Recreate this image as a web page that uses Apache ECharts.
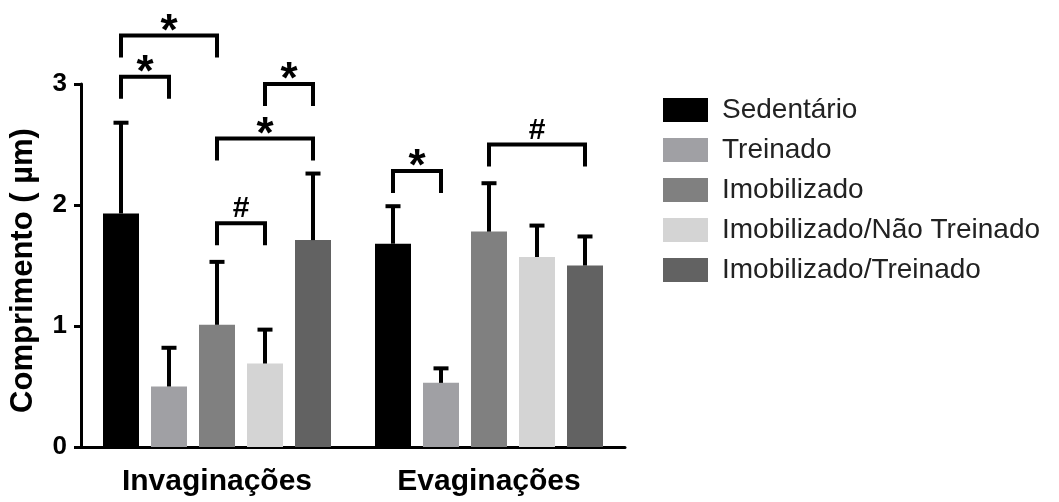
<!DOCTYPE html>
<html>
<head>
<meta charset="utf-8">
<script src="https://cdn.jsdelivr.net/npm/echarts@6/dist/echarts.min.js"></script>
<style>html,body{margin:0;padding:0;background:#fff;}#c{width:1059px;height:502px;}</style>
</head>
<body>
<div id="c"></div>
<script>
// ---- data ----
const categories = ['Invaginações', 'Evaginações'];
const seriesNames = ['Sedentário', 'Treinado', 'Imobilizado', 'Imobilizado/Não Treinado', 'Imobilizado/Treinado'];
const sedentario = [1.93, 1.68];
const treinado = [0.50, 0.53];
const imobilizado = [1.01, 1.78];
const imobNaoTreinado = [0.69, 1.57];
const imobTreinado = [1.71, 1.50];
// upper end of error bars (mean + SD)
const sedentarioErr = [2.68, 1.99];
const treinadoErr = [0.82, 0.65];
const imobilizadoErr = [1.53, 2.18];
const imobNaoTreinadoErr = [0.97, 1.83];
const imobTreinadoErr = [2.26, 1.74];
const yTicks = [0, 1, 2, 3];
// significance brackets: [category, fromSeries, toSeries, height, label]
const brackets = [
  [0, 0, 2, 3.40, '*'],
  [0, 0, 1, 3.06, '*'],
  [0, 3, 4, 3.00, '*'],
  [0, 2, 4, 2.55, '*'],
  [0, 2, 3, 1.85, '#'],
  [1, 0, 1, 2.28, '*'],
  [1, 2, 4, 2.50, '#']
];

// ---- styling ----
const colors = ['#000000', '#a0a0a4', '#808080', '#d4d4d4', '#626262'];
const BAR_W = 36, BAR_GAP = 12;
const FONT = 'Liberation Sans, Arial, sans-serif';
const means = [sedentario, treinado, imobilizado, imobNaoTreinado, imobTreinado];
const errs = [sedentarioErr, treinadoErr, imobilizadoErr, imobNaoTreinadoErr, imobTreinadoErr];
const nS = seriesNames.length;
function offsetOf(s) { return (s - (nS - 1) / 2) * (BAR_W + BAR_GAP); }

const errData = [];
means.forEach((arr, s) => arr.forEach((v, c) => errData.push([c, s, v, errs[s][c]])));

const barSeries = seriesNames.map((name, s) => ({
  name: name,
  type: 'bar',
  data: means[s],
  barWidth: BAR_W,
  barGap: (BAR_GAP / BAR_W * 100) + '%',
  itemStyle: { color: colors[s] },
  emphasis: { disabled: true },
  z: 2
}));

const errSeries = {
  type: 'custom',
  name: 'err',
  data: errData,
  encode: { x: 0, y: 2 },
  z: 3,
  silent: true,
  renderItem: function (params, api) {
    const c = api.value(0), s = api.value(1);
    const p0 = api.coord([c, api.value(2)]);
    const p1 = api.coord([c, api.value(3)]);
    const x = p0[0] + offsetOf(s);
    const st = { stroke: '#000', lineWidth: 4 };
    return {
      type: 'group',
      children: [
        { type: 'line', shape: { x1: x, y1: p0[1], x2: x, y2: p1[1] }, style: st },
        { type: 'line', shape: { x1: x - 7.5, y1: p1[1], x2: x + 7.5, y2: p1[1] }, style: st }
      ]
    };
  }
};

const bracketSeries = {
  type: 'custom',
  name: 'brackets',
  data: brackets,
  encode: { x: 0, y: 3 },
  clip: false,
  silent: true,
  z: 4,
  renderItem: function (params, api) {
    const c = api.value(0), a = api.value(1), b = api.value(2), h = api.value(3);
    const lab = brackets[params.dataIndex][4];
    const p = api.coord([c, h]);
    const xa = p[0] + offsetOf(a), xb = p[0] + offsetOf(b), y = p[1];
    const leg = 22;
    const isStar = lab === '*';
    return {
      type: 'group',
      children: [
        { type: 'polyline', shape: { points: [[xa, y + leg], [xa, y], [xb, y], [xb, y + leg]] },
          style: { stroke: '#000', lineWidth: 4, fill: null, lineJoin: 'miter' } },
        { type: 'text', x: (xa + xb) / 2, y: isStar ? y - 3 : y - 14,
          style: { text: lab, fill: '#000', font: 'bold ' + (isStar ? 44 : 30) + 'px ' + FONT,
            align: 'center', verticalAlign: 'middle' } }
      ]
    };
  }
};

const chart = echarts.init(document.getElementById('c'), null, { renderer: 'canvas' });
chart.setOption({
  animation: false,
  backgroundColor: '#fff',
  grid: { left: 80, right: 434, top: 84, bottom: 55, containLabel: false },
  legend: {
    data: seriesNames,
    orient: 'vertical',
    left: 658,
    top: 91,
    itemWidth: 45,
    itemHeight: 24,
    itemGap: 12,
    icon: 'rect',
    selectedMode: false,
    textStyle: { fontFamily: FONT, fontSize: 28, color: '#222', lineHeight: 24, padding: [0, 0, 0, 9] }
  },
  xAxis: {
    type: 'category',
    data: categories,
    axisLine: { lineStyle: { color: '#000', width: 3 } },
    axisTick: { alignWithLabel: true, length: 8, lineStyle: { color: '#000', width: 3 } },
    axisLabel: { fontFamily: FONT, fontSize: 30, fontWeight: 'bold', color: '#000', margin: 20 }
  },
  yAxis: {
    type: 'value',
    min: yTicks[0],
    max: yTicks[yTicks.length - 1],
    interval: 1,
    name: 'Comprimento ( µm)',
    nameLocation: 'middle',
    nameRotate: 90,
    nameGap: 42,
    nameTextStyle: { fontFamily: FONT, fontSize: 31, fontWeight: 'bold', color: '#000', padding: [0, 10, 0, 0] },
    splitLine: { show: false },
    axisLine: { show: true, lineStyle: { color: '#000', width: 3 } },
    axisTick: { show: true, length: 7, lineStyle: { color: '#000', width: 3 } },
    axisLabel: { fontFamily: FONT, fontSize: 26, fontWeight: 'bold', color: '#000', margin: 14 }
  },
  series: barSeries.concat([errSeries, bracketSeries])
});
</script>
</body>
</html>
